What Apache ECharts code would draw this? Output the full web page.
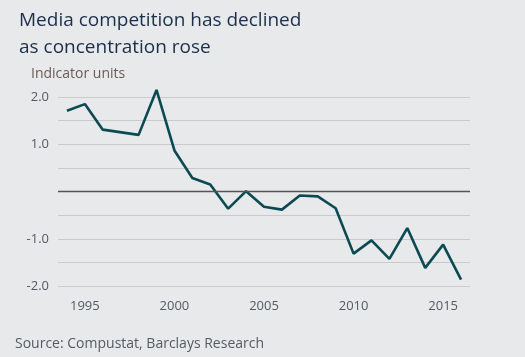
<!DOCTYPE html>
<html><head><meta charset="utf-8">
<script src="https://cdn.jsdelivr.net/npm/echarts@6/dist/echarts.min.js"></script>
<style>html,body{margin:0;padding:0;background:#e8e9eb}#c{width:525px;height:357px}</style>
</head><body><div id="c"></div>
<script>
const years = ['1994','1995','1996','1997','1998','1999','2000','2001','2002','2003','2004','2005','2006','2007','2008','2009','2010','2011','2012','2013','2014','2015','2016'];
const values = [1.71,1.85,1.31,null,1.20,2.15,0.87,0.29,0.15,-0.36,0.01,-0.32,-0.38,-0.08,-0.10,-0.35,-1.31,-1.03,-1.42,-0.77,-1.61,-1.12,-1.86];
const xTickLabels = ['1995','2000','2005','2010','2015'];
const yTickLabels = ['2.0','1.0','-1.0','-2.0'];
const titleText = 'Media competition has declined\nas concentration rose';
const unitText = 'Indicator units';
const sourceText = 'Source: Compustat, Barclays Research';
const font = 'Open Sans';
const chart = echarts.init(document.getElementById('c'));
chart.setOption({
  backgroundColor: '#e8e9eb',
  animation: false,
  title: [{
    text: titleText, left: 14, top: 2,
    textStyle: {fontFamily: font, fontSize: 19, fontWeight: 'normal', color: '#1b2f4b', lineHeight: 27}
  }],
  graphic: [
    {type: 'text', left: 31, top: 67, style: {text: unitText, font: '14px "Open Sans"', fill: '#6b5b55'}},
    {type: 'text', left: 15, top: 337, style: {text: sourceText, font: '14px "Open Sans"', fill: '#555a60'}}
  ],
  grid: {left: 58, right: 55, top: 97, bottom: 70.7},
  xAxis: {
    type: 'category', data: years, boundaryGap: true,
    axisLine: {show: false}, axisTick: {show: false},
    axisLabel: {
      interval: 0, margin: 13, color: '#555a60', fontFamily: font, fontSize: 13,
      formatter: v => xTickLabels.includes(v) ? v : ''
    }
  },
  yAxis: {
    type: 'value', min: -2, max: 2, interval: 0.5,
    axisLine: {show: false}, axisTick: {show: false},
    axisLabel: {
      margin: 9, color: '#555a60', fontFamily: font, fontSize: 13,
      formatter: v => { const s = v.toFixed(1); return yTickLabels.includes(s) ? s : ''; }
    },
    splitLine: {lineStyle: {color: '#c9cacd', width: 1}}
  },
  series: [{
    type: 'line', data: values, connectNulls: true, symbol: 'none', clip: false,
    lineStyle: {color: '#0b4a52', width: 2.6},
    markLine: {
      silent: true, symbol: 'none', label: {show: false},
      lineStyle: {color: '#555555', width: 1.3, type: 'solid'},
      data: [{yAxis: 0}]
    }
  }]
});
</script></body></html>
